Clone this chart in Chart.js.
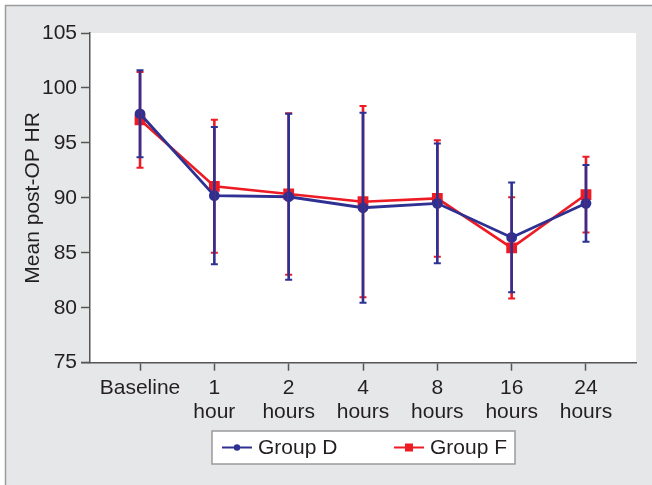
<!DOCTYPE html>
<html>
  <head>
    <meta charset="utf-8">
    <title>Mean post-OP HR</title>
    <script src="https://cdn.jsdelivr.net/npm/chart.js@4.4.1/dist/chart.umd.min.js"></script>
    <style>
      html, body { margin: 0; padding: 0; background: #fff; }
      #wrap { position: relative; width: 652px; height: 485px; }
    </style>
  </head>
  <body>
    <div id="wrap"><canvas id="gr1" width="652" height="485"></canvas></div>
    <script>
    // data
    const categories = ['Baseline', '1 hour', '2 hours', '4 hours', '8 hours', '16 hours', '24 hours'];
    const yTicks = [75, 80, 85, 90, 95, 100, 105];
    const groupDMean = [97.65, 90.2, 90.1, 89.1, 89.5, 86.4, 89.5];
    const groupDSD = [3.95, 6.25, 7.55, 8.65, 5.45, 5.0, 3.5];
    const groupFMean = [97.1, 91.05, 90.35, 89.65, 89.95, 85.45, 90.3];
    const groupFSD = [4.35, 6.05, 7.35, 8.7, 5.3, 4.6, 3.45];

    const blue = '#2e3192';
    const red = '#ed1c24';
    const ink = '#231f20';
    const axisCol = '#555555';
    const font = "'Liberation Sans', Arial, Helvetica, sans-serif";

    function pts(arr) {
      return arr.map((v, i) => ({ x: i, y: v }));
    }

    // frame, white plot area, axis extension, legend box
    const framePlugin = {
      id: 'frame',
      beforeDraw(chart) {
        const c = chart.ctx, a = chart.chartArea;
        c.save();
        c.fillStyle = '#ffffff';
        c.fillRect(0, 0, chart.width, chart.height);
        c.fillStyle = '#e6e7e8';
        c.fillRect(5, 5, chart.width - 5, chart.height - 5);
        c.strokeStyle = '#9a9b9c';
        c.lineWidth = 1.5;
        c.beginPath();
        c.moveTo(5.5, chart.height);
        c.lineTo(5.5, 5.5);
        c.lineTo(chart.width, 5.5);
        c.stroke();
        c.fillStyle = '#ffffff';
        c.fillRect(a.left, a.top, a.right - a.left, a.bottom - a.top);
        c.restore();
      },
      afterDraw(chart) {
        const c = chart.ctx, a = chart.chartArea;
        c.save();
        c.strokeStyle = axisCol;
        c.lineWidth = 1.5;
        c.beginPath();
        c.moveTo(a.left - 9, a.bottom);
        c.lineTo(a.left, a.bottom);
        c.stroke();
        // legend
        const lx = 212, ly = 431, lw = 303, lh = 33;
        c.fillStyle = '#ffffff';
        c.fillRect(lx, ly, lw, lh);
        c.strokeStyle = '#9a9b9c';
        c.lineWidth = 1.5;
        c.strokeRect(lx, ly, lw, lh);
        const my = ly + lh / 2;
        const items = [
          { x: 222, ds: chart.data.datasets[0] },
          { x: 394, ds: chart.data.datasets[1] }
        ];
        items.forEach(it => {
          c.strokeStyle = it.ds.borderColor;
          c.fillStyle = it.ds.borderColor;
          c.lineWidth = 2;
          c.beginPath();
          c.moveTo(it.x, my);
          c.lineTo(it.x + 30, my);
          c.stroke();
          if (it.ds.pointStyle === 'rect') {
            c.fillRect(it.x + 11, my - 4, 8, 8);
          } else {
            c.beginPath();
            c.arc(it.x + 15, my, 3.2, 0, Math.PI * 2);
            c.fill();
          }
          c.fillStyle = ink;
          c.font = '21px ' + font;
          c.textBaseline = 'middle';
          c.fillText(it.ds.label, it.x + 36, my + 1);
        });
        c.restore();
      }
    };

    // SD error bars drawn through the scales
    const errorPlugin = {
      id: 'errbars',
      afterDatasetsDraw(chart) {
        const c = chart.ctx;
        const xs = chart.scales.x, ys = chart.scales.y;
        const sets = [
          { mean: groupFMean, sd: groupFSD, col: red },
          { mean: groupDMean, sd: groupDSD, col: blue }
        ];
        c.save();
        sets.forEach(s => {
          c.strokeStyle = s.col;
          s.mean.forEach((m, i) => {
            const x = xs.getPixelForValue(i);
            const yt = ys.getPixelForValue(m + s.sd[i]);
            const yb = ys.getPixelForValue(m - s.sd[i]);
            c.lineWidth = 2.6;
            c.beginPath();
            c.moveTo(x, yt);
            c.lineTo(x, yb);
            c.stroke();
            c.lineWidth = 2;
            c.beginPath();
            c.moveTo(x - 3.5, yt);
            c.lineTo(x + 3.5, yt);
            c.moveTo(x - 3.5, yb);
            c.lineTo(x + 3.5, yb);
            c.stroke();
          });
        });
        c.restore();
      }
    };

    let config = {
      type: 'line',
      data: {
        datasets: [
          {
            label: 'Group D',
            data: pts(groupDMean),
            borderColor: blue,
            backgroundColor: blue,
            borderWidth: 2.8,
            pointStyle: 'circle',
            pointRadius: 4,
            pointHoverRadius: 4,
            tension: 0
          },
          {
            label: 'Group F',
            data: pts(groupFMean),
            borderColor: red,
            backgroundColor: red,
            borderWidth: 2.6,
            pointStyle: 'rect',
            pointRadius: 5.8,
            pointHoverRadius: 5.8,
            tension: 0
          }
        ]
      },
      options: {
        responsive: false,
        animation: false,
        events: [],
        layout: { padding: { left: 0, top: 33, right: 16, bottom: 0 } },
        plugins: {
          legend: { display: false },
          tooltip: { enabled: false }
        },
        scales: {
          x: {
            type: 'linear',
            min: -0.673,
            max: 6.673,
            grid: {
              display: true,
              drawOnChartArea: false,
              drawTicks: true,
              tickLength: 8,
              tickWidth: 1.5,
              color: axisCol
            },
            border: { display: true, color: axisCol, width: 1.5 },
            ticks: {
              stepSize: 1,
              includeBounds: false,
              autoSkip: false,
              maxRotation: 0,
              minRotation: 0,
              padding: 6,
              color: ink,
              font: { family: font, size: 21, lineHeight: 1.12 },
              callback: function (v) {
                const lab = categories[v];
                if (lab === undefined) return '';
                return lab.indexOf(' ') > 0 ? lab.split(' ') : lab;
              }
            },
            afterFit: function (scale) { scale.height = 122.3; }
          },
          y: {
            min: yTicks[0],
            max: yTicks[yTicks.length - 1],
            grid: {
              display: true,
              drawOnChartArea: false,
              drawTicks: true,
              tickLength: 9,
              tickWidth: 1.5,
              color: axisCol
            },
            border: { display: true, color: axisCol, width: 1.5 },
            ticks: {
              stepSize: 5,
              padding: 4,
              color: ink,
              font: { family: font, size: 21 },
              callback: function (v) { return yTicks.includes(v) ? String(v) : ''; }
            },
            title: {
              display: true,
              text: 'Mean post-OP HR',
              color: ink,
              font: { family: font, size: 21 },
              padding: { top: 21, bottom: 0 }
            },
            afterFit: function (scale) { scale.width = 90; }
          }
        }
      },
      plugins: [framePlugin, errorPlugin]
    };

    var canv = document.getElementById('gr1');
    var ctx = canv.getContext('2d');
    let graph1 = new Chart(ctx, config);
    </script>
  </body>
</html>
